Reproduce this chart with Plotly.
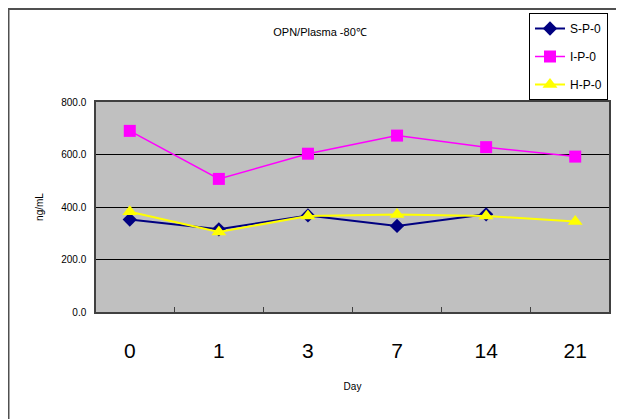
import plotly.graph_objects as go

days = ["0", "1", "3", "7", "14", "21"]
s_p_0 = [352, 315, 368, 328, 372, None]
i_p_0 = [690, 507, 603, 672, 628, 592]
h_p_0 = [382, 305, 366, 371, 366, 345]
y_ticks = [0, 200, 400, 600, 800]
y_tick_labels = ["0.0", "200.0", "400.0", "600.0", "800.0"]

fig = go.Figure()
fig.add_trace(go.Scatter(x=days, y=s_p_0, name="S-P-0", mode="lines+markers",
                         line=dict(color="#000080", width=2),
                         marker=dict(symbol="diamond", size=11, color="#000080"),
                         legendgroup="a"))
fig.add_trace(go.Scatter(x=days, y=i_p_0, name="I-P-0", mode="lines+markers",
                         line=dict(color="#FF00FF", width=1.5),
                         marker=dict(symbol="square", size=12, color="#FF00FF"),
                         legendgroup="b"))
fig.add_trace(go.Scatter(x=days, y=h_p_0, name="H-P-0", mode="lines+markers",
                         line=dict(color="#FFFF00", width=2),
                         marker=dict(symbol="triangle-up", size=13, color="#FFFF00"),
                         legendgroup="c"))

OFF = 8  # page body margin
W, H = 624 - OFF, 419 - OFF
L, T = 96 - OFF, 102 - OFF
R = W - (609 - OFF)
B = H - (312 - OFF)
pw, ph = W - L - R, H - T - B


def px(x):
    return (x - OFF - L) / pw


def py(y):
    return (H - B - (y - OFF)) / ph


fig.update_layout(
    width=W, height=H,
    margin=dict(l=L, r=R, t=T, b=B, autoexpand=False),
    paper_bgcolor="white",
    plot_bgcolor="#C0C0C0",
    font=dict(family="Liberation Sans, Arial, sans-serif", color="#000000"),
    title=dict(text="OPN/Plasma -80\u2103", x=(320 - OFF) / W, xanchor="center",
               xref="container", yref="container",
               y=1 - (32 - OFF) / H, yanchor="middle", font=dict(size=11)),
    showlegend=True,
    legend=dict(x=(529 - OFF) / W, y=1 - (13 - OFF) / H,
                xref="container", yref="container",
                xanchor="left", yanchor="top",
                bordercolor="#000000", borderwidth=1, bgcolor="white",
                font=dict(size=12), tracegroupgap=9, traceorder="grouped",
                entrywidth=70, entrywidthmode="pixels"),
    xaxis=dict(type="category", categoryorder="array", categoryarray=days,
               showgrid=False, showline=True, linecolor="#404040", linewidth=1.5,
               mirror=True, ticks="inside", tickson="boundaries", ticklen=5,
               tickcolor="#404040",
               tickfont=dict(size=21),
               ticklabelstandoff=19, automargin=False,
               title=dict(text="Day", font=dict(size=10), standoff=22)),
    yaxis=dict(range=[0, 800], tickvals=y_ticks, ticktext=y_tick_labels,
               showgrid=True, gridcolor="#000000", gridwidth=1,
               showline=True, linecolor="#404040", linewidth=1.5, mirror=True,
               ticks="", tickfont=dict(size=10), ticklabelstandoff=6,
               automargin=False,
               title=dict(text="ng/mL", font=dict(size=10), standoff=16),
               zeroline=False),
    shapes=[dict(type="rect", xref="paper", yref="paper",
                 x0=px(8.5), y0=py(440), x1=px(640), y1=py(9),
                 line=dict(color="#505050", width=2), layer="below")],
)

fig.write_html("out.html")
